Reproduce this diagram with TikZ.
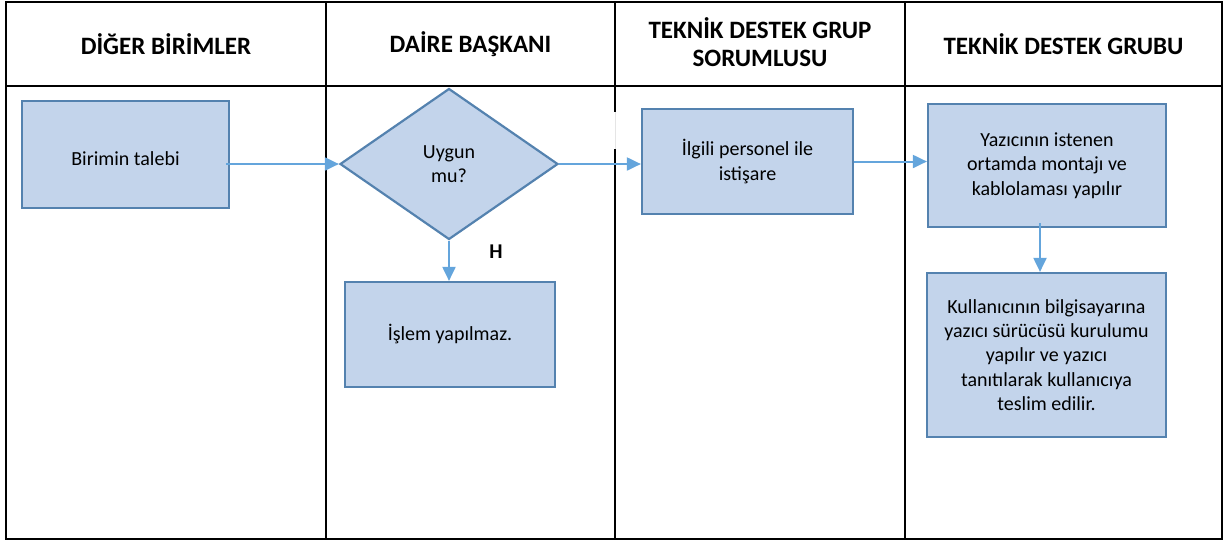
\documentclass[tikz,border=0pt]{standalone}
\usepackage{fontspec}
\setmainfont{Carlito}
\usetikzlibrary{shapes.geometric,arrows.meta}
\definecolor{boxfill}{RGB}{195,212,235}
\definecolor{boxline}{RGB}{84,130,175}
\definecolor{arrowc}{RGB}{100,165,220}
\begin{document}
\begin{tikzpicture}[x=1pt,y=-1pt,
  frame/.style={line width=2pt,black},
  hdr/.style={font=\fontsize{25}{28}\selectfont\bfseries,align=center},
  procbox/.style={draw=boxline,fill=boxfill,line width=2.2pt,inner sep=0pt,align=center,
     font=\fontsize{20}{24.3}\selectfont},
  decision/.style={diamond,draw=boxline,fill=boxfill,line width=2.2pt,inner sep=0pt,align=center,
     font=\fontsize{20}{24}\selectfont},
  arr/.style={draw=arrowc,line width=2pt,-{Triangle[length=14pt,width=13pt]}}]
\useasboundingbox (0,0) rectangle (1223,542);
% frame
\draw[frame] (6,2) rectangle (1222,539);
\draw[frame] (6,86) -- (1222,86);
\draw[frame] (326,2) -- (326,539);
\draw[frame] (615,2) -- (615,112);
\draw[frame] (615,149) -- (615,539);
\draw[black!10,line width=0.6pt] (615,112) -- (615,149);
\draw[frame] (905,2) -- (905,539);
% headers
\node[hdr] (h1) at (166,44) {DİĞER BİRİMLER};
\node[hdr] (h2) at (470.5,44) {DAİRE BAŞKANI};
\node[hdr] (h3) at (760,42) {TEKNİK DESTEK GRUP\\SORUMLUSU};
\node[hdr] (h4) at (1063.5,44) {TEKNİK DESTEK GRUBU};
% boxes
\node[procbox,minimum width=207pt,minimum height=107pt,text height=21pt,text depth=0pt] (b1) at (125.5,154.5) {Birimin talebi};
\node[decision,minimum width=218pt,minimum height=151pt] (d) at (449,164) {Uygun\\mu?};
\node[procbox,minimum width=210pt,minimum height=105pt] (b2) at (450,334.5) {İşlem yapılmaz.};
\node[procbox,minimum width=211pt,minimum height=105pt] (b3) at (747.5,161.5) {İlgili personel ile\\istişare};
\node[procbox,minimum width=238pt,minimum height=123pt] (b4) at (1047,165.5) {Yazıcının istenen\\ortamda montajı ve\\kablolaması yapılır};
\node[procbox,minimum width=239pt,minimum height=164pt] (b5) at (1046.5,355) {Kullanıcının bilgisayarına\\yazıcı sürücüsü kurulumu\\yapılır ve yazıcı\\tanıtılarak kullanıcıya\\teslim edilir.};
\node[font=\fontsize{21}{24}\selectfont\bfseries] (hlab) at (496,252) {H};
% connectors
\coordinate (s1) at ([xshift=-4pt]b1.east |- d.west);
\draw[arr] (s1) -- (d.west);
\draw[arr] (d.east) -- (d.east -| b3.west);
\draw[arr] (d.south) -- (d.south |- b2.north);
\draw[arr] (b3.east) -- (b3.east -| b4.west);
\coordinate (s4) at ([xshift=-7pt,yshift=5pt]b4.south);
\draw[arr] (s4) -- (s4 |- b5.north);
\end{tikzpicture}
\end{document}
